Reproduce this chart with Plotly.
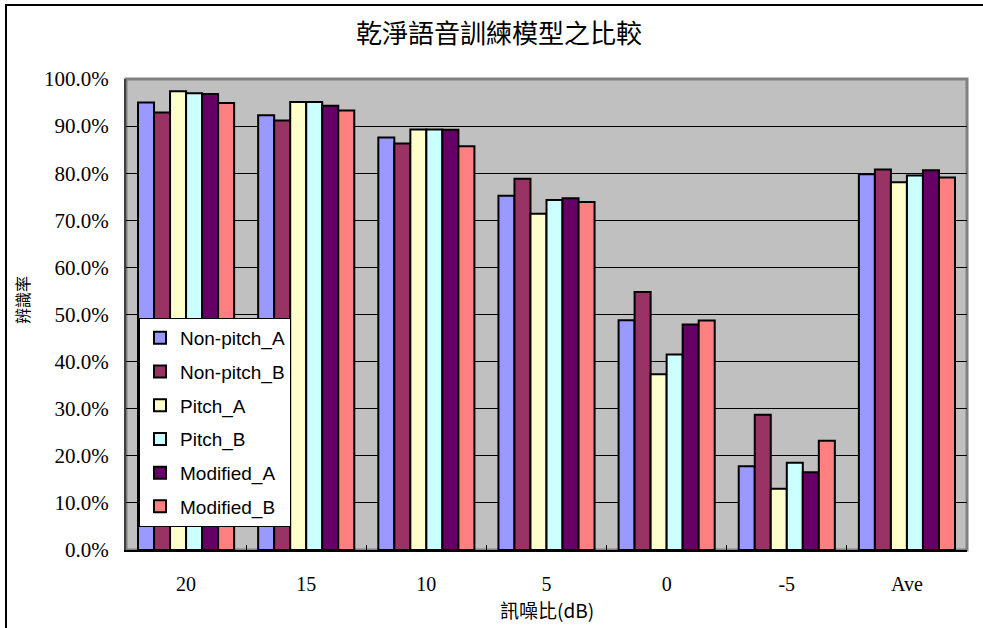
import plotly.graph_objects as go

# Recognition rate (%) per SNR condition for each training model
categories = ["20", "15", "10", "5", "0", "-5", "Ave"]
non_pitch_a = [95.0, 92.3, 87.6, 75.2, 48.8, 17.8, 79.8]
non_pitch_b = [92.9, 91.2, 86.3, 78.8, 54.8, 28.7, 80.8]
pitch_a = [97.4, 95.1, 89.3, 71.4, 37.3, 13.0, 78.1]
pitch_b = [97.0, 95.1, 89.3, 74.3, 41.5, 18.5, 79.5]
modified_a = [96.8, 94.3, 89.2, 74.7, 47.9, 16.5, 80.6]
modified_b = [94.9, 93.3, 85.7, 73.9, 48.7, 23.2, 79.1]

series_names = ["Non-pitch_A", "Non-pitch_B", "Pitch_A", "Pitch_B", "Modified_A", "Modified_B"]
series_values = [non_pitch_a, non_pitch_b, pitch_a, pitch_b, modified_a, modified_b]
series_colors = ["#9999FF", "#993366", "#FFFFCC", "#CCFFFF", "#660066", "#FF8080"]

y_tick_vals = [0, 10, 20, 30, 40, 50, 60, 70, 80, 90, 100]
y_tick_text = [f"{v:.1f}%" for v in y_tick_vals]

title_text = "乾淨語音訓練模型之比較"
x_title = "訊噪比(dB)"
y_title = "辨識率"

SERIF = "Liberation Serif, Noto Sans CJK TC, serif"
CJK = "Noto Sans CJK TC, Liberation Serif, serif"

fig = go.Figure()
for i, (name, vals, col) in enumerate(zip(series_names, series_values, series_colors)):
    fig.add_trace(go.Bar(
        x=categories, y=vals, name=name,
        marker=dict(color=col, line=dict(color="black", width=2)),
        legendgroup=f"g{i}",
    ))

W, H = 983, 628
L, R, T, B = 126, 16, 79, 78
pw, ph = W - L - R, H - T - B

def px_x(p):
    return (p - L) / pw

def px_y(p):
    return (H - B - p) / ph

fig.update_layout(
    width=W, height=H,
    margin=dict(l=L, r=R, t=T, b=B),
    paper_bgcolor="white",
    plot_bgcolor="#C0C0C0",
    barmode="group",
    bargap=0.2,
    bargroupgap=0,
    showlegend=True,
    legend=dict(
        x=px_x(139), y=px_y(318), xanchor="left", yanchor="top",
        bgcolor="white", bordercolor="black", borderwidth=1,
        font=dict(family="Liberation Sans, Arial, sans-serif", size=19, color="black"),
        traceorder="grouped", tracegroupgap=6,
        itemwidth=30,
    ),
    xaxis=dict(
        type="category",
        showline=True, linecolor="black", linewidth=2,
        ticks="inside", tickson="boundaries", ticklen=5, tickcolor="black",
        tickfont=dict(family=SERIF, size=20, color="black"),
        ticklabelstandoff=15,
        showgrid=False,
    ),
    yaxis=dict(
        range=[0, 100],
        tickvals=y_tick_vals, ticktext=y_tick_text,
        tickfont=dict(family=SERIF, size=21, color="black"),
        ticks="inside", ticklen=4, tickcolor="black",
        ticklabelstandoff=11,
        showline=True, linecolor="#404040", linewidth=2,
        showgrid=True, gridcolor="black", gridwidth=1,
        zeroline=False,
    ),
    annotations=[
        dict(text=title_text, xref="paper", yref="paper",
             x=px_x(499), y=px_y(31), xanchor="center", yanchor="middle",
             showarrow=False, font=dict(family=CJK, size=26, color="black")),
        dict(text=x_title, xref="paper", yref="paper",
             x=px_x(547), y=px_y(609), xanchor="center", yanchor="middle",
             showarrow=False, font=dict(family=CJK, size=19, color="black")),
        dict(text=y_title, xref="paper", yref="paper",
             x=px_x(22), y=px_y(300), xanchor="center", yanchor="middle",
             textangle=-90, showarrow=False,
             font=dict(family=CJK, size=16, color="black")),
    ],
    shapes=[
        # plot area frame
        dict(type="rect", xref="paper", yref="paper", x0=0, x1=1, y0=0, y1=1,
             line=dict(color="#808080", width=3), layer="below"),
        # chart border
        dict(type="rect", xref="paper", yref="paper",
             x0=px_x(6), x1=px_x(1000), y0=px_y(5), y1=px_y(660),
             line=dict(color="black", width=2)),
    ],
)

fig.write_html("out.html")
